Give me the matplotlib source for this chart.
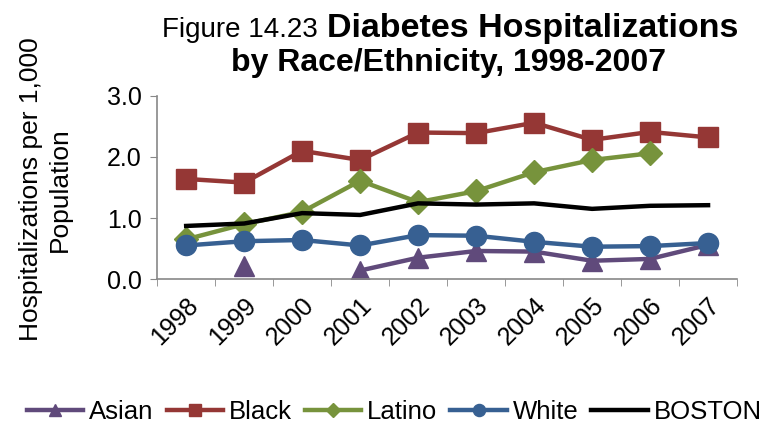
import numpy as np
import matplotlib
matplotlib.use("Agg")
import matplotlib.pyplot as plt

plt.rcParams['font.family'] = ['Liberation Sans', 'DejaVu Sans']

years = ["1998", "1999", "2000", "2001", "2002", "2003", "2004", "2005", "2006", "2007"]
asian = [np.nan, 0.22, np.nan, 0.14, 0.35, 0.46, 0.45, 0.30, 0.33, 0.56]
black = [1.64, 1.58, 2.10, 1.95, 2.40, 2.39, 2.56, 2.28, 2.41, 2.32]
latino = [0.65, 0.90, 1.10, 1.61, 1.26, 1.44, 1.75, 1.95, 2.06, np.nan]
white = [0.55, 0.62, 0.64, 0.55, 0.72, 0.71, 0.61, 0.53, 0.54, 0.59]
boston = [0.87, 0.91, 1.08, 1.05, 1.24, 1.22, 1.24, 1.15, 1.20, 1.21]

fig = plt.figure(figsize=(7.63, 4.30), dpi=100)
ax = fig.add_axes([0.206, 0.351, 0.76, 0.426])

x = np.arange(len(years))
ax.plot(x, asian, color="#604A7B", lw=3.2, marker="^", ms=14, label="Asian")
ax.plot(x, black, color="#953735", lw=3.2, marker="s", ms=14.5, label="Black")
ax.plot(x, latino, color="#77933C", lw=3.2, marker="D", ms=12.5, label="Latino")
ax.plot(x, white, color="#376092", lw=3.2, marker="o", ms=14.5, label="White")
ax.plot(x, boston, color="black", lw=3.2, label="BOSTON")

ax.set_xlim(-0.5, len(years) - 0.5)
ax.set_ylim(0, 3.0)
ax.set_yticks([0, 1, 2, 3])
ax.set_yticklabels(["0.0", "1.0", "2.0", "3.0"], fontsize=18)
ax.set_xticks(x)
ax.set_xticklabels(years, fontsize=18, rotation=45, ha="right", rotation_mode="anchor")
ax.set_xticks(np.arange(-0.5, len(years), 1.0), minor=True)
ax.tick_params(axis="x", which="major", length=0, pad=10)
ax.tick_params(axis="x", which="minor", length=5, color="#888888", direction="out")
ax.tick_params(axis="y", length=5, color="#888888", direction="out", pad=6)
for s in ["top", "right"]:
    ax.spines[s].set_visible(False)
for s in ["left", "bottom"]:
    ax.spines[s].set_color("#888888")
    ax.spines[s].set_linewidth(1.2)

ax.set_ylabel("Hospitalizations per 1,000\nPopulation", fontsize=19, linespacing=1.25)
ax.yaxis.set_label_coords(-0.147, 0.49)

fig.text(0.426, 0.915, "Figure 14.23 ", fontsize=20, ha="right", va="baseline")
fig.text(0.428, 0.915, "Diabetes Hospitalizations", fontsize=24.5, fontweight="bold",
         ha="left", va="baseline")
fig.text(0.588, 0.835, "by Race/Ethnicity, 1998-2007", fontsize=23, fontweight="bold",
         ha="center", va="baseline")

fig.legend(loc="center", bbox_to_anchor=(0.517, 0.042), ncol=5, frameon=False, fontsize=18.5,
           handlelength=2.2, handletextpad=0.23, columnspacing=0.5, markerscale=0.6)

fig.savefig("out.png", dpi=100)
